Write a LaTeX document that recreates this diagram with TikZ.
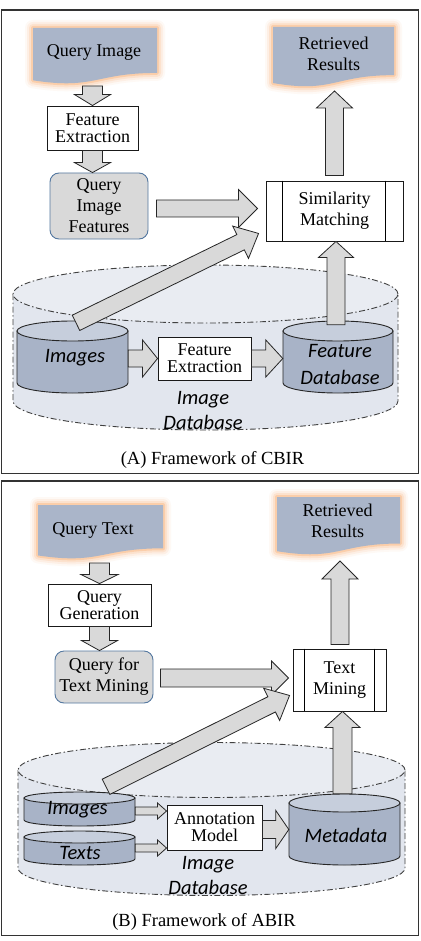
\documentclass[tikz,border=0pt]{standalone}
\usepackage{fontspec}
\setmainfont{Liberation Serif}
\newfontfamily\calfont{Carlito}
\usetikzlibrary{calc}
\definecolor{docfill}{RGB}{170,181,201}
\definecolor{glowc}{RGB}{250,160,90}
\definecolor{cylfill}{RGB}{168,179,199}
\definecolor{cyltopc}{RGB}{198,206,220}
\definecolor{dbfill}{RGB}{226,230,238}
\definecolor{dbtop}{RGB}{233,236,242}
\definecolor{arrfill}{RGB}{217,217,217}
\definecolor{qfill}{RGB}{217,217,217}
\definecolor{qborder}{RGB}{84,120,160}
\tikzset{
  barrow/.style={draw=black!85, fill=arrfill, line width=0.8pt, line join=miter, miter limit=10},
  proc/.style={draw=black!90, fill=white, line width=0.9pt, inner sep=0pt, align=center, font=\fontsize{18}{17}\selectfont},
  procwide/.style={proc, font=\fontsize{18}{21}\selectfont},
  qbox/.style={draw=qborder, fill=qfill, line width=0.9pt, rounded corners=9pt, inner sep=0pt, align=center, font=\fontsize{18}{21}\selectfont},
  doctext/.style={inner sep=0pt, align=center, font=\fontsize{18}{21}\selectfont},
  dblbl/.style={inner sep=0pt, align=center, font=\calfont\itshape\fontsize{20.5}{25}\selectfont},
  cylbody/.style={draw=black!85, fill=cylfill, line width=0.9pt},
  cyltop/.style={draw=black!85, fill=cyltopc, line width=0.9pt},
  bigcyl/.style={draw=black!75, fill=dbfill, line width=0.9pt, dash pattern=on 6pt off 2.5pt on 1.5pt off 2.5pt},
  bigcyltop/.style={bigcyl, fill=dbtop},
  panel/.style={draw=black!80, line width=1.4pt},
  captext/.style={inner sep=0pt, font=\fontsize{18.5}{21}\selectfont},
}
% block arrow: from, to, shaft half width, head half width, head length
\newcommand{\barr}[5]{%
  \coordinate (bah) at ($(#2)!#5pt!(#1)$);
  \draw[barrow] ($(#1)!#3pt!90:(#2)$) -- ($(bah)!#3pt!90:(#2)$) -- ($(bah)!#4pt!90:(#2)$) -- (#2)
    -- ($(bah)!#4pt!-90:(#2)$) -- ($(bah)!#3pt!-90:(#2)$) -- ($(#1)!#3pt!-90:(#2)$) -- cycle;}
% cylinder: body style, top style, name, cx, ytop centre, ybottom centre, rx, ry
\newcommand{\cylinder}[8]{%
  \path[#1] ({#4-#7},#5) -- ({#4-#7},#6) arc[start angle=180,end angle=360,x radius=#7pt,y radius=#8pt] -- ({#4+#7},#5) -- cycle;
  \path[#2] (#4,#5) ellipse[x radius=#7pt,y radius=#8pt];
  \node[inner sep=0pt,minimum width={2*#7*1pt},minimum height={(#6-#5+2*#8)*1pt}] (#3) at (#4,{(#5+#6)/2}) {};}
% document shape with glow: x0, x1, ytop, h
\newcommand{\docshape}[4]{%
  \foreach \lw/\op in {16/0.06,12/0.1,8/0.16,4/0.3}{%
    \draw[glowc, line width=\lw pt, opacity=\op, line join=round]
      (#1,#3) -- (#2,#3) -- (#2,{#3+0.802*#4}) .. controls ({(#1+#2)/2},{#3+0.802*#4}) and ({(#1+#2)/2},{#3+1.107*#4}) .. (#1,{#3+0.934*#4}) -- cycle;}
  \fill[docfill] (#1,#3) -- (#2,#3) -- (#2,{#3+0.802*#4}) .. controls ({(#1+#2)/2},{#3+0.802*#4}) and ({(#1+#2)/2},{#3+1.107*#4}) .. (#1,{#3+0.934*#4}) -- cycle;}
\begin{document}
\begin{tikzpicture}[x=1pt,y=-1pt]
\useasboundingbox (0,0) rectangle (420,941);
\fill[white] (0,0) rectangle (420,941);
% panels
\draw[panel] (1.5,10) rectangle (418.5,473.5);
\draw[panel] (1.5,481) rectangle (418.5,935.5);

% ===== Panel A =====
\docshape{33}{157}{28}{56}
\node[doctext] (qi) at (94,52) {Query Image};
\docshape{273}{394}{27}{60}
\node[doctext] (rrA) at (333.5,53.5) {Retrieved\\Results};
\node[proc, minimum width=91pt, minimum height=44pt] (fe) at (92.5,128) {Feature\\Extraction};
\node[qbox, minimum width=98pt, minimum height=66pt] (qif) at (99,206) {Query\\Image\\Features};
\node[procwide, minimum width=137pt, minimum height=60pt] (sm) at (334.5,211) {Similarity\\Matching};
\draw[line width=0.9pt] ($(sm.north west)+(17,0)$) -- ($(sm.south west)+(17,0)$);
\draw[line width=0.9pt] ($(sm.north east)+(-18,0)$) -- ($(sm.south east)+(-18,0)$);

\cylinder{bigcyl}{bigcyltop}{dbA}{205.5}{294}{401}{192.5}{29}
\cylinder{cylbody}{cyltop}{imgAC}{72.5}{331}{383}{55.5}{10}
\cylinder{cylbody}{cyltop}{fdbC}{338}{331}{383}{55}{10}
\node[proc, minimum width=93pt, minimum height=43pt] (fe2) at (204.5,358.5) {Feature\\Extraction};
\node[dblbl] (imgA) at (75,358) {Images};
\node[dblbl, font=\calfont\itshape\fontsize{20.5}{27}\selectfont] (fdb) at (340,364) {Feature\\Database};
\node[dblbl] (idbA) at (203,410) {Image\\Database};
\node[captext] (capA) at (212.5,460) {(A) Framework of CBIR};

\coordinate (qi-o) at (92.5,86);
\barr{qi-o}{fe.north}{10}{18}{11}
\coordinate (a2e) at (fe.south |- qif.north);
\barr{fe.south}{a2e}{10}{18}{10}
\coordinate (a3s) at ($(qif.east)+(8,2.5)$);
\coordinate (a3e) at ($(sm.west)+(-8,-2.5)$);
\barr{a3s}{a3e}{8.5}{19}{19}
\coordinate (a4s) at ($(sm.north)+(0,-5)$);
\coordinate (a4e) at (334.5,91);
\barr{a4s}{a4e}{9}{18}{17}
\coordinate (a5s) at ($(fdbC.north)+(-2,4)$);
\coordinate (a5e) at ($(sm.south)+(1.5,0)$);
\barr{a5s}{a5e}{9}{17.5}{16}
\coordinate (a6s) at (imgAC.east |- fe2.west);
\barr{a6s}{fe2.west}{8.5}{18.5}{15}
\coordinate (a7e) at (fdbC.west |- fe2.east);
\barr{fe2.east}{a7e}{8.5}{18.5}{17}
\coordinate (dAs) at ($(imgAC.north)+(3.5,2)$);
\coordinate (dAe) at ($(sm.south west)+(-7,-8)$);
\barr{dAs}{dAe}{8.5}{18}{20}

% ===== Panel B =====
\docshape{38}{163}{505}{54}
\node[doctext] (qt) at (93,530) {Query Text};
\docshape{277}{400}{497}{58}
\node[doctext] (rrB) at (337.5,521) {Retrieved\\Results};
\node[proc, minimum width=103pt, minimum height=42pt] (qg) at (99.5,605) {Query\\Generation};
\node[qbox, minimum width=98pt, minimum height=52pt] (qtm) at (104,677) {Query for\\Text Mining};
\node[procwide, minimum width=93pt, minimum height=62pt] (tm) at (339.5,680) {Text\\Mining};
\draw[line width=0.9pt] ($(tm.north west)+(12,0)$) -- ($(tm.south west)+(12,0)$);
\draw[line width=0.9pt] ($(tm.north east)+(-12,0)$) -- ($(tm.south east)+(-12,0)$);

\cylinder{bigcyl}{bigcyltop}{dbB}{211.5}{770}{868}{193.5}{27.5}
\cylinder{cylbody}{cyltop}{imgBC}{79.5}{798}{820}{55.5}{6}
\cylinder{cylbody}{cyltop}{txtBC}{79.5}{837}{859}{55.5}{6}
\cylinder{cylbody}{cyltop}{metaC}{344.5}{803}{856}{55.5}{9}
\node[proc, minimum width=95pt, minimum height=45pt] (am) at (214.5,827.5) {Annotation\\Model};
\node[dblbl] (imgB) at (77.5,810) {Images};
\node[dblbl] (txtB) at (80,853) {Texts};
\node[dblbl] (meta) at (346,835) {Metadata};
\node[dblbl] (idbB) at (208,875) {Image\\Database};
\node[captext] (capB) at (204,922) {(B) Framework of ABIR};

\coordinate (qt-o) at (99.5,563);
\barr{qt-o}{qg.north}{10}{18.5}{9}
\coordinate (b2e) at (qg.south |- qtm.north);
\barr{qg.south}{b2e}{10}{18}{10}
\coordinate (b3s) at ($(qtm.east)+(7,1)$);
\coordinate (b3e) at ($(tm.west)+(-4,-2)$);
\barr{b3s}{b3e}{9}{17}{17}
\coordinate (b4s) at ($(tm.north)+(0.5,-4)$);
\coordinate (b4e) at (340,561);
\barr{b4s}{b4e}{9}{18}{18}
\coordinate (b5s) at ($(metaC.north)+(-2,0)$);
\coordinate (b5e) at ($(tm.south)+(3,0)$);
\barr{b5s}{b5e}{9.5}{17.5}{16}
\coordinate (b6s) at ($(imgBC.east)+(0,2)$);
\coordinate (b6e) at (am.west |- b6s);
\barr{b6s}{b6e}{4}{8}{9}
\coordinate (b7e) at (am.west |- txtBC.east);
\barr{txtBC.east}{b7e}{4}{8}{9}
\coordinate (b8s) at (am.east |- metaC.west);
\barr{b8s}{metaC.west}{9}{19}{13}
\coordinate (dBs) at ($(imgBC.north)+(26.5,-5)$);
\coordinate (dBe) at ($(tm.south west)+(-3,-16)$);
\barr{dBs}{dBe}{8.5}{18}{20}
\end{tikzpicture}
\end{document}
